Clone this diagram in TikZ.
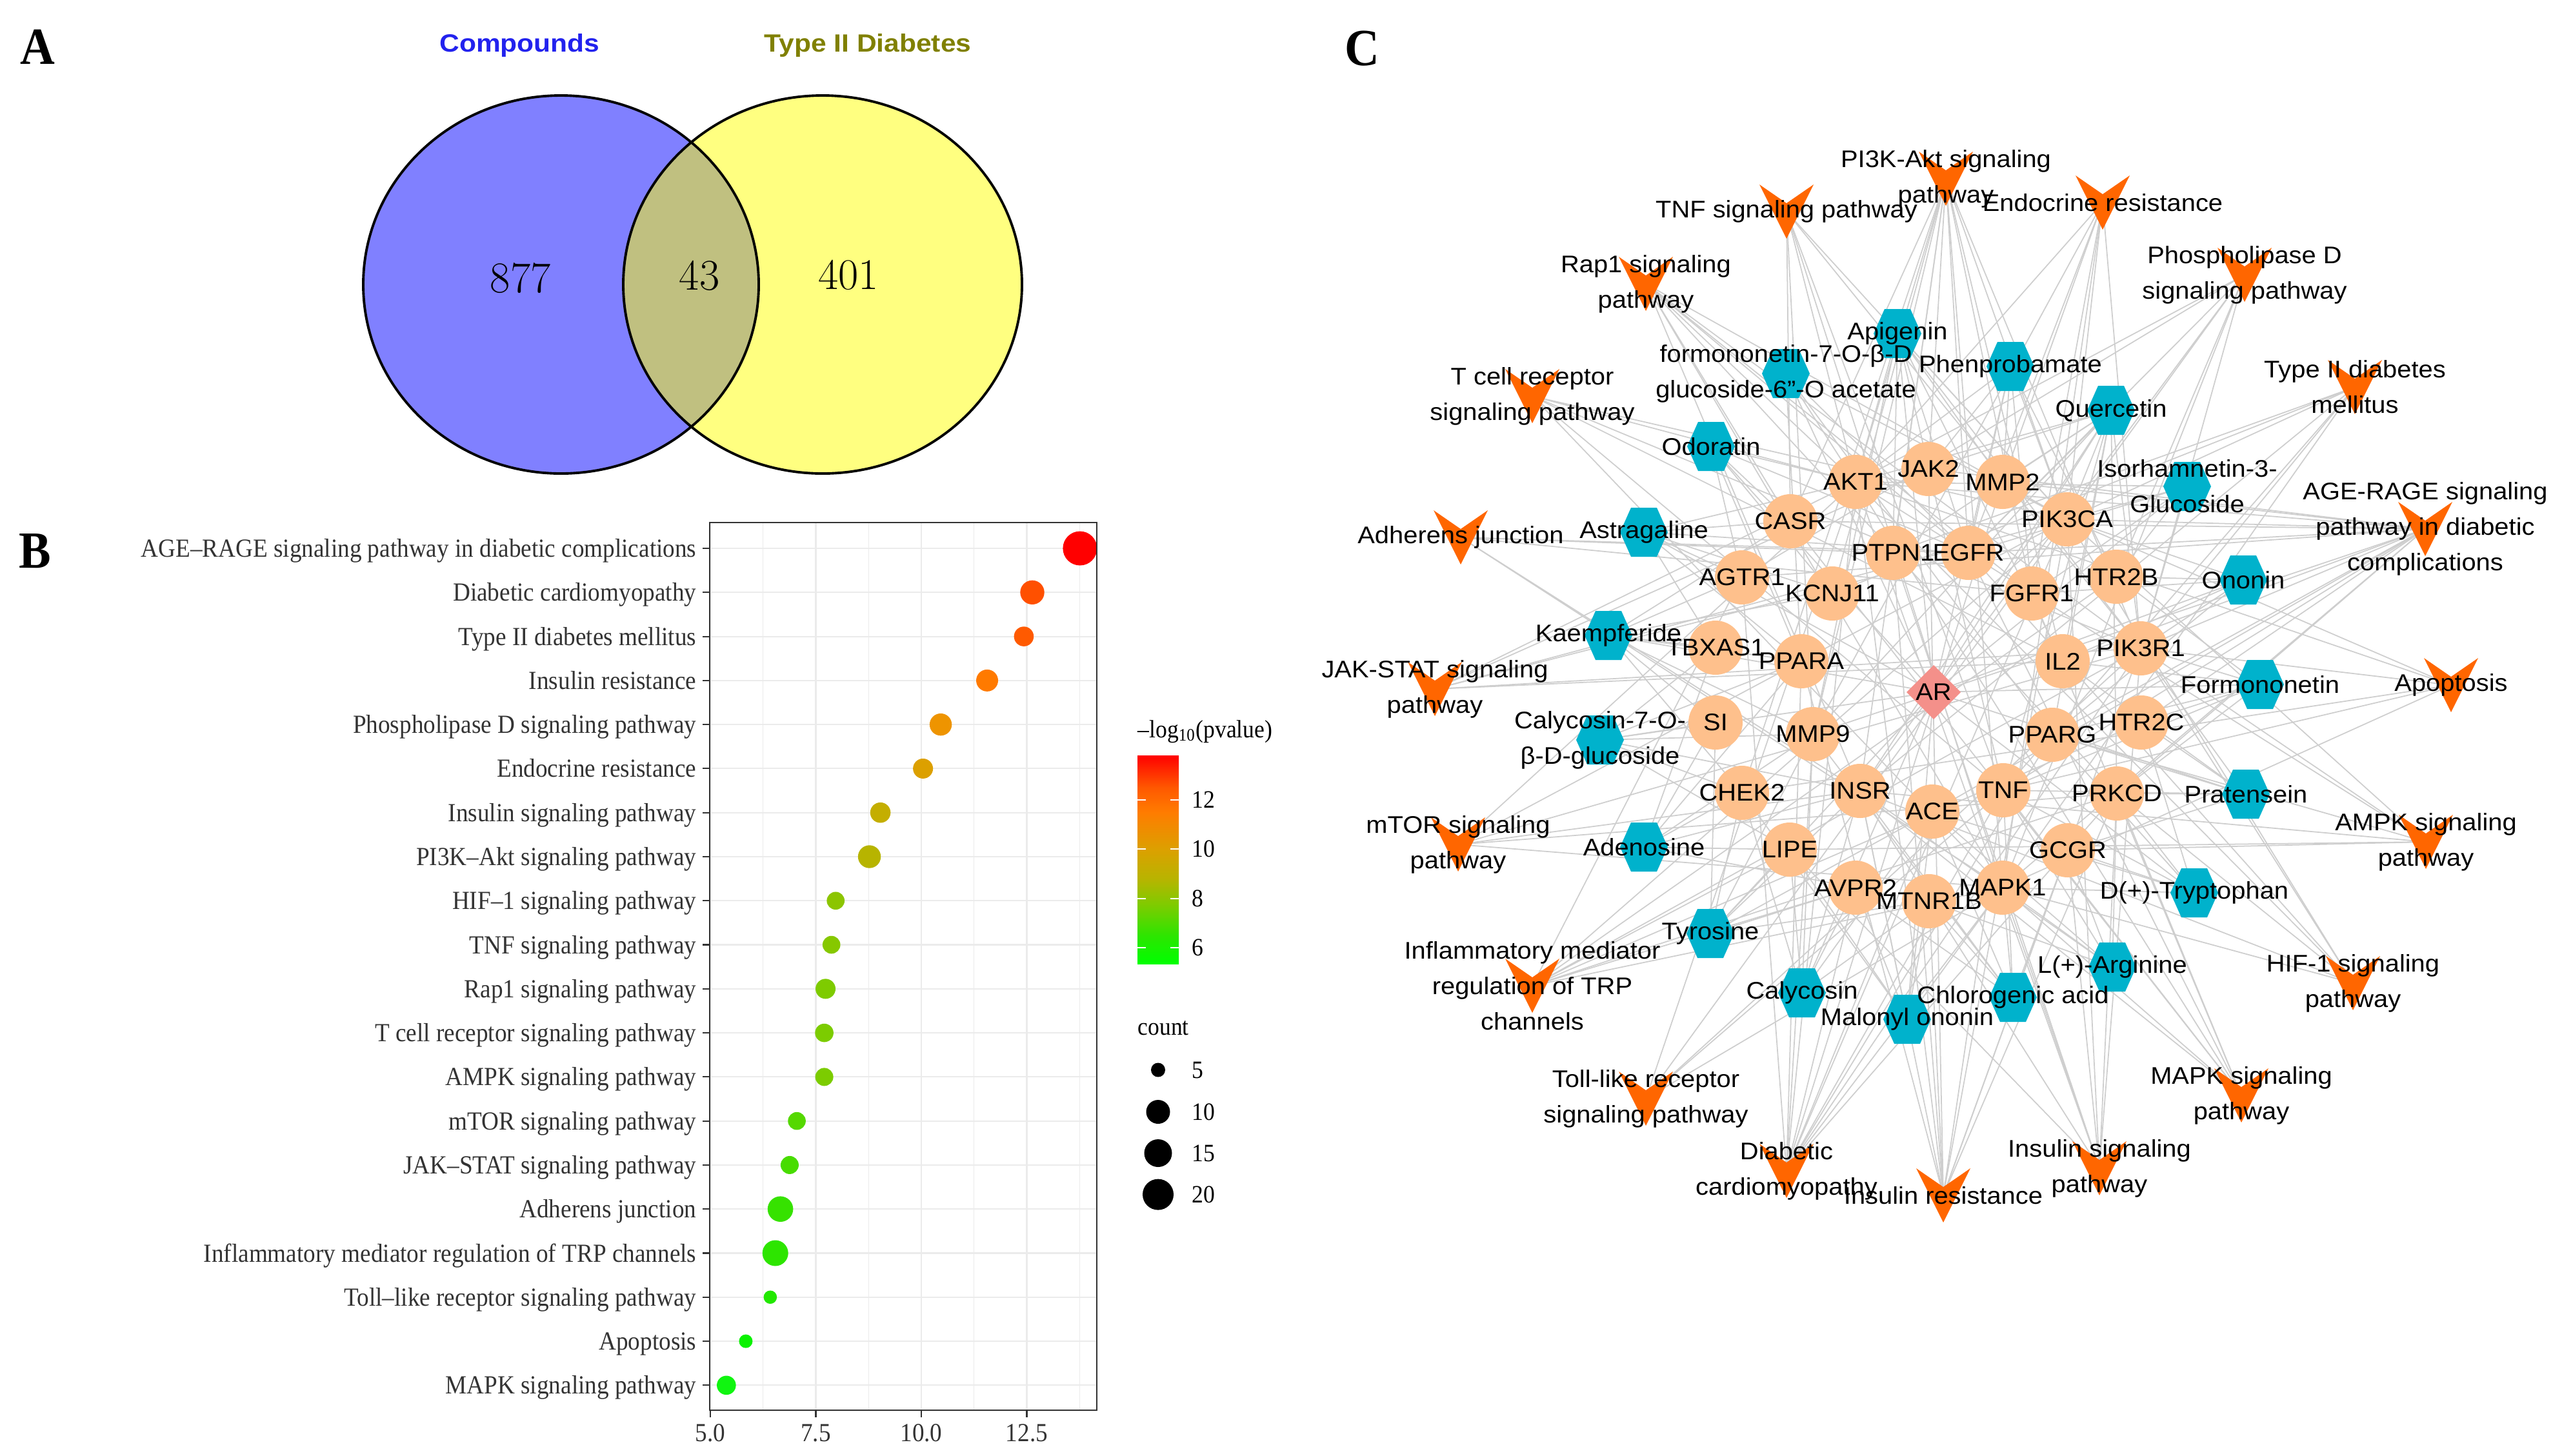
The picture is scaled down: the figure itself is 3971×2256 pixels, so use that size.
\documentclass[tikz,border=0pt]{standalone}
\usepackage{fontspec}
\newfontfamily\netfont[FakeStretch=1.07]{Liberation Sans}
\newfontfamily\plotfont[FakeStretch=0.92,Ligatures=TeX]{Liberation Serif}
\newfontfamily\vennfont[FakeStretch=1.1]{Liberation Sans}

\definecolor{tgtcol}{RGB}{254,192,140}
\definecolor{cpdcol}{RGB}{0,178,204}
\definecolor{pwcol}{RGB}{255,102,0}
\definecolor{arcol}{RGB}{244,144,138}
\definecolor{linkcol}{RGB}{206,206,206}
\definecolor{vblue}{RGB}{128,128,255}
\definecolor{vyellow}{RGB}{255,255,128}
\definecolor{vmix}{RGB}{192,192,128}
\definecolor{cpdtxt}{RGB}{34,34,238}
\definecolor{t2dtxt}{RGB}{128,128,0}
\definecolor{gridcol}{RGB}{235,235,235}
\definecolor{cb0}{HTML}{00FF00}
\definecolor{cb1}{HTML}{2DE500}
\definecolor{cb2}{HTML}{7CCC00}
\definecolor{cb3}{HTML}{B8B400}
\definecolor{cb4}{HTML}{DCA000}
\definecolor{cb5}{HTML}{FF7C00}
\definecolor{cb6}{HTML}{FF5800}
\definecolor{cb7}{HTML}{FF0000}
\pgfdeclareverticalshading{pvbar}{100bp}{color(0bp)=(cb0); color(25bp)=(cb0);
  color(31.8bp)=(cb1); color(38.9bp)=(cb2); color(45.4bp)=(cb3); color(52.5bp)=(cb4);
  color(61.4bp)=(cb5); color(67.3bp)=(cb6); color(75bp)=(cb7); color(100bp)=(cb7)}

\pgfdeclarelayer{links}
\pgfdeclarelayer{marks}
\pgfsetlayers{links,marks,main}

\begin{document}
\begin{tikzpicture}[x=0.01cm,y=-0.01cm,
	lbl/.style={font={\netfont\fontsize{10.6}{15.6}\selectfont},align=center,inner sep=0pt},
	link/.style={draw=linkcol,line width=0.5pt},
	axlab/.style={font={\plotfont\fontsize{11.5}{14}\selectfont},text=black!80,inner sep=0pt},
	legtxt/.style={font={\plotfont\fontsize{11}{13}\selectfont},inner sep=0pt},
	panlab/.style={font={\plotfont\bfseries\fontsize{23}{28}\selectfont},anchor=base,inner sep=0pt},
	vnum/.style={font={\fontsize{19.3}{23}\selectfont},inner sep=0pt},
	vtitle/.style={font={\vennfont\bfseries\fontsize{11}{13}\selectfont},anchor=base,inner sep=0pt},
	gmaj/.style={draw=gridcol,line width=0.6pt},
	gmin/.style={draw=gridcol,line width=0.3pt},
	axtick/.style={draw=black!80,line width=0.6pt},
	hexa/.pic={\fill[cpdcol] (-37,0) -- (-20,-38) -- (20,-38) -- (37,0) -- (20,38) -- (-20,38) -- cycle;},
	vmark/.pic={\fill[pwcol] (-42,-42) -- (0,-13) -- (42,-42) -- (0,42) -- cycle;}]
	\useasboundingbox (0,0) rectangle (3971,2256);
	
	% panel letters
	\node[panlab] (pA) at (58,99.5) {A};
	\node[panlab] (pB) at (54,880) {B};
	\node[panlab] (pC) at (2111,101) {C};
	
	% A: Venn diagram
	\fill[vblue] (869.5,441) ellipse[x radius=306.5,y radius=293];
	\fill[vyellow] (1275,441) ellipse[x radius=309,y radius=293];
	\begin{scope}
		\clip (869.5,441) ellipse[x radius=306.5,y radius=293];
		\fill[vmix] (1275,441) ellipse[x radius=309,y radius=293];
	\end{scope}
	\draw[line width=1.1pt] (869.5,441) ellipse[x radius=306.5,y radius=293]
	(1275,441) ellipse[x radius=309,y radius=293];
	\node[vtitle,text=cpdtxt] (setA) at (805.5,80) {Compounds};
	\node[vtitle,text=t2dtxt] (setB) at (1345,80) {Type II Diabetes};
	\node[vnum] (onlyA) at (806.6,431) {877};
	\node[vnum] (both) at (1084,427) {43};
	\node[vnum] (onlyB) at (1315,426) {401};
	
	% B: bubble plot
	\foreach \gx in {1101,1264.5,1428,1591.5} \draw[gmaj] (\gx,810) -- (\gx,2186);
	\foreach \gx in {1182.75,1346.25,1509.75,1673.25} \draw[gmin] (\gx,810) -- (\gx,2186);
	\foreach \lab/\pv/\rad/\hx [count=\i from 0] in {
		AGE--RAGE signaling pathway in diabetic complications/13.76/26.5/FF0000,
		Diabetic cardiomyopathy/12.63/18.7/FF5000,
		Type II diabetes mellitus/12.43/15.3/FF5A00,
		Insulin resistance/11.56/17/FF7A00,
		Phospholipase D signaling pathway/10.46/17.2/EE9400,
		Endocrine resistance/10.04/15.5/DCA000,
		Insulin signaling pathway/9.03/15.8/C4AE00,
		PI3K--Akt signaling pathway/8.77/17.7/B7B400,
		HIF--1 signaling pathway/7.97/13.8/8CC500,
		TNF signaling pathway/7.87/13.8/86C800,
		Rap1 signaling pathway/7.73/15.5/7ECB00,
		T cell receptor signaling pathway/7.70/14.3/7CCC00,
		AMPK signaling pathway/7.70/14/7CCC00,
		mTOR signaling pathway/7.05/13.8/55D800,
		JAK--STAT signaling pathway/6.88/14/48DC00,
		Adherens junction/6.66/19.8/36E200,
		Inflammatory mediator regulation of TRP channels/6.54/20/2DE500,
		Toll--like receptor signaling pathway/6.42/10.3/22E800,
		Apoptosis/5.84/10.5/0AF200,
		MAPK signaling pathway/5.38/14.8/10F510}
	{
		\pgfmathsetmacro\yy{850+68.28*\i}
		\pgfmathsetmacro\xx{1101+65.4*(\pv-5)}
		\draw[gmaj] (1100,\yy) -- (1700,\yy);
		\draw[axtick] (1089,\yy) -- (1100,\yy);
		\node[axlab,anchor=base east] (row\i) at (1080,\yy+13.5) {\lab};
		\definecolor{bub}{HTML}{\hx}
		\fill[bub] (\xx,\yy) circle[radius=\rad];
	}
	\draw[draw=black!80,line width=0.6pt] (1100,810) rectangle (1700,2186);
	\foreach \gx/\tk in {1101/5.0,1264.5/7.5,1428/10.0,1591.5/12.5}{
		\draw[axtick] (\gx,2186) -- (\gx,2197);
		\node[axlab,anchor=base] (xt\tk) at (\gx,2234) {\tk};
	}
	
	% B: legends
	\node[legtxt,anchor=base west] (pvtitle) at (1763,1143) {\textendash log\textsubscript{10}(pvalue)};
	\shade[shading=pvbar] (1763,1171) rectangle (1827,1494);
	\foreach \pv/\yy in {6/1469,8/1392.6,10/1316.2,12/1239.8}{
		\draw[white,line width=0.6pt] (1763,\yy) -- (1776,\yy) (1814,\yy) -- (1827,\yy);
		\node[legtxt,anchor=west] (cb\pv) at (1847,\yy) {\pv};
	}
	\node[legtxt,anchor=base west] (cnttitle) at (1763,1604) {count};
	\foreach \cn/\yy/\rad in {5/1658.5/11,10/1723.5/18.5,15/1787.5/21.5,20/1851.6/24}{
		\fill (1795,\yy) circle[radius=\rad];
		\node[legtxt,anchor=west] (cnt\cn) at (1847,\yy) {\cn};
	}
	
	% C: network, pathways
	\node[lbl] (pi3k) at (3016,277) {PI3K-Akt signaling\\pathway};
	\node[lbl] (tnfp) at (2769,328) {TNF signaling pathway};
	\node[lbl] (rap1) at (2551,440) {Rap1 signaling\\pathway};
	\node[lbl] (tcr) at (2375,614) {T cell receptor\\signaling pathway};
	\node[lbl] (adh) at (2264,833) {Adherens junction};
	\node[lbl] (jak) at (2224,1068) {JAK-STAT signaling\\pathway};
	\node[lbl] (mtor) at (2260,1309) {mTOR signaling\\pathway};
	\node[lbl] (infl) at (2375,1528) {Inflammatory mediator\\regulation of TRP\\channels};
	\node[lbl] (toll) at (2551,1703) {Toll-like receptor\\signaling pathway};
	\node[lbl] (dcm) at (2769,1815) {Diabetic\\cardiomyopathy};
	\node[lbl] (ires) at (3012,1853) {Insulin resistance};
	\node[lbl] (isig) at (3254,1811) {Insulin signaling\\pathway};
	\node[lbl] (mapk) at (3474,1698) {MAPK signaling\\pathway};
	\node[lbl] (hif) at (3647,1524) {HIF-1 signaling\\pathway};
	\node[lbl] (ampk) at (3760,1305) {AMPK signaling\\pathway};
	\node[lbl] (apo) at (3799,1062) {Apoptosis};
	\node[lbl] (age) at (3759,820) {AGE-RAGE signaling\\pathway in diabetic\\complications};
	\node[lbl] (t2dm) at (3650,600) {Type II diabetes\\mellitus};
	\node[lbl] (pld) at (3479,426) {Phospholipase D\\signaling pathway};
	\node[lbl] (endo) at (3259,314) {Endocrine resistance};
	
	% C: network, compounds
	\node[lbl] (api) at (2941,517) {Apigenin};
	\node[lbl] (fga) at (2768,579) {formononetin-7-O-β-D\\glucoside-6”-O acetate};
	\node[lbl] (odo) at (2652,692) {Odoratin};
	\node[lbl] (ast) at (2548,825) {Astragaline};
	\node[lbl] (phe) at (3116,568) {Phenprobamate};
	\node[lbl] (que) at (3272,636) {Quercetin};
	\node[lbl] (iso) at (3390,754) {Isorhamnetin-3-\\Glucoside};
	\node[lbl] (ono) at (3477,899) {Ononin};
	\node[lbl] (form) at (3503,1061) {Formononetin};
	\node[lbl] (pra) at (3481,1231) {Pratensein};
	\node[lbl] (dtry) at (3401,1384) {D(+)-Tryptophan};
	\node[lbl] (larg) at (3274,1499) {L(+)-Arginine};
	\node[lbl] (chl) at (3120,1546) {Chlorogenic acid};
	\node[lbl] (mal) at (2956,1580) {Malonyl ononin};
	\node[lbl] (caly) at (2793,1539) {Calycosin};
	\node[lbl] (tyr) at (2651,1447) {Tyrosine};
	\node[lbl] (ade) at (2548,1313) {Adenosine};
	\node[lbl] (c7g) at (2480,1147) {Calycosin-7-O-\\β-D-glucoside};
	\node[lbl] (kae) at (2493,985) {Kaempferide};
	
	% C: network, targets
	\node[lbl] (akt1) at (2876,747) {AKT1};
	\node[lbl] (jak2) at (2989,727) {JAK2};
	\node[lbl] (mmp2) at (3104,747) {MMP2};
	\node[lbl] (pik3ca) at (3204,805) {PIK3CA};
	\node[lbl] (casr) at (2775,808) {CASR};
	\node[lbl] (ptpn1) at (2934,857) {PTPN1};
	\node[lbl] (egfr) at (3051,857) {EGFR};
	\node[lbl] (kcnj11) at (2840,920) {KCNJ11};
	\node[lbl] (agtr1) at (2700,895) {AGTR1};
	\node[lbl] (fgfr1) at (3149,920) {FGFR1};
	\node[lbl] (htr2b) at (3280,894) {HTR2B};
	\node[lbl] (tbxas1) at (2659,1004) {TBXAS1};
	\node[lbl] (ppara) at (2792,1025) {PPARA};
	\node[lbl] (ar) at (2997,1073) {AR};
	\node[lbl] (il2) at (3197,1025) {IL2};
	\node[lbl] (pik3r1) at (3318,1005) {PIK3R1};
	\node[lbl] (si) at (2659,1120) {SI};
	\node[lbl] (mmp9) at (2810,1138) {MMP9};
	\node[lbl] (pparg) at (3181,1139) {PPARG};
	\node[lbl] (htr2c) at (3319,1120) {HTR2C};
	\node[lbl] (chek2) at (2700,1229) {CHEK2};
	\node[lbl] (insr) at (2883,1226) {INSR};
	\node[lbl] (ace) at (2995,1258) {ACE};
	\node[lbl] (tnf) at (3105,1225) {TNF};
	\node[lbl] (prkcd) at (3281,1230) {PRKCD};
	\node[lbl] (lipe) at (2774,1317) {LIPE};
	\node[lbl] (gcgr) at (3205,1318) {GCGR};
	\node[lbl] (avpr2) at (2876,1376) {AVPR2};
	\node[lbl] (mtnr1b) at (2990,1397) {MTNR1B};
	\node[lbl] (mapk1) at (3104,1376) {MAPK1};
	
	% C: links
	\begin{pgfonlayer}{links}
		\foreach \s/\tgts in {
			pi3k/{akt1,jak2,pik3ca,pik3r1,egfr,fgfr1,il2,insr,mapk1,chek2,ptpn1,mmp9,casr,kcnj11},
			endo/{akt1,egfr,pik3ca,pik3r1,mapk1,mmp2,mmp9,fgfr1},
			pld/{agtr1,egfr,insr,pik3ca,pik3r1,mapk1,akt1,htr2b},
			t2dm/{insr,pik3ca,pik3r1,mapk1,tnf,kcnj11,ptpn1},
			age/{akt1,jak2,mmp2,pik3ca,pik3r1,mapk1,prkcd,tnf,agtr1,egfr,il2,pparg,htr2c,mmp9,ace,casr},
			apo/{akt1,pik3ca,pik3r1,mapk1,tnf,chek2},
			ampk/{akt1,insr,pik3ca,pik3r1,pparg,lipe,gcgr},
			hif/{akt1,egfr,insr,mapk1,pik3ca,pik3r1,prkcd},
			mapk/{akt1,egfr,fgfr1,insr,mapk1,tnf,prkcd,casr},
			isig/{akt1,pik3ca,pik3r1,insr,ptpn1,mapk1,lipe,prkcd,gcgr},
			ires/{akt1,pik3ca,pik3r1,insr,ptpn1,ppara,tnf,prkcd,gcgr,jak2,mtnr1b},
			dcm/{agtr1,ace,akt1,mmp2,mmp9,ppara,pparg,tnf,pik3ca,pik3r1,prkcd,mapk1,avpr2},
			toll/{akt1,pik3ca,pik3r1,mapk1,tnf},
			infl/{htr2b,htr2c,pik3ca,pik3r1,prkcd,mapk1,agtr1,avpr2,lipe},
			mtor/{akt1,pik3ca,pik3r1,insr,mapk1,prkcd},
			jak/{akt1,jak2,pik3ca,pik3r1,il2,egfr},
			adh/{egfr,fgfr1,insr,ptpn1,mapk1},
			tcr/{akt1,pik3ca,pik3r1,il2,mapk1,tnf},
			rap1/{akt1,pik3ca,pik3r1,egfr,fgfr1,insr,mapk1,prkcd,casr},
			tnfp/{akt1,pik3ca,pik3r1,mapk1,mmp9,tnf,casr},
			api/{akt1,ar,egfr,mmp2,mmp9,pik3ca,ptpn1,tnf,il2,pik3r1},
			fga/{ar,akt1,ppara,pparg,pik3ca,egfr},
			odo/{ar,casr,agtr1,egfr,akt1,kcnj11,ppara},
			ast/{ar,akt1,egfr,casr,kcnj11,agtr1,ppara,tbxas1},
			phe/{jak2,mmp2,pik3ca,htr2b,akt1,egfr,fgfr1,ar},
			que/{akt1,ar,egfr,mmp2,mmp9,pik3ca,tnf,il2,insr,pparg,jak2,ptpn1,pik3r1,prkcd},
			iso/{ar,pik3ca,htr2b,fgfr1,akt1,egfr,pik3r1},
			ono/{ar,htr2b,pik3r1,il2,pparg,fgfr1,pik3ca},
			form/{ar,pik3r1,htr2c,pparg,il2,prkcd,tnf,htr2b},
			pra/{ar,prkcd,htr2c,pparg,tnf,pik3r1,gcgr,il2},
			dtry/{gcgr,mapk1,htr2c,prkcd,tnf,pparg,ace,ar},
			larg/{mapk1,gcgr,ace,mtnr1b,tnf,prkcd,insr},
			chl/{ace,mtnr1b,mapk1,tnf,avpr2,insr,gcgr,mmp9},
			mal/{ar,mtnr1b,avpr2,ace,insr,chek2,lipe,mapk1},
			caly/{ar,lipe,avpr2,insr,chek2,mmp9,ace,mtnr1b},
			tyr/{lipe,chek2,avpr2,insr,mmp9,si,ace,mtnr1b,ar},
			ade/{lipe,chek2,si,mmp9,avpr2,insr,ppara,tbxas1},
			c7g/{si,chek2,tbxas1,mmp9,ar,ppara,lipe,insr},
			kae/{tbxas1,ppara,si,agtr1,kcnj11,mmp9,casr,chek2,ar}}
		\foreach \tg in \tgts \draw[link] (\s.center) -- (\tg.center);
	\end{pgfonlayer}
	
	% C: node marks
	\begin{pgfonlayer}{marks}
		\foreach \n in {pi3k,tnfp,rap1,tcr,adh,jak,mtor,infl,toll,dcm,ires,isig,mapk,hif,ampk,apo,age,t2dm,pld,endo}
		\pic at (\n.center) {vmark};
		\foreach \n in {api,fga,odo,ast,phe,que,iso,ono,form,pra,dtry,larg,chl,mal,caly,tyr,ade,c7g,kae}
		\pic at (\n.center) {hexa};
		\foreach \n in {akt1,jak2,mmp2,pik3ca,casr,ptpn1,egfr,kcnj11,agtr1,fgfr1,htr2b,tbxas1,ppara,il2,pik3r1,si,mmp9,pparg,htr2c,chek2,insr,ace,tnf,prkcd,lipe,gcgr,avpr2,mtnr1b,mapk1}
		\fill[tgtcol] (\n.center) circle[radius=42];
		\fill[arcol] (ar.center) +(-42,0) -- +(0,-42) -- +(42,0) -- +(0,42) -- cycle;
	\end{pgfonlayer}
\end{tikzpicture}
\end{document}
